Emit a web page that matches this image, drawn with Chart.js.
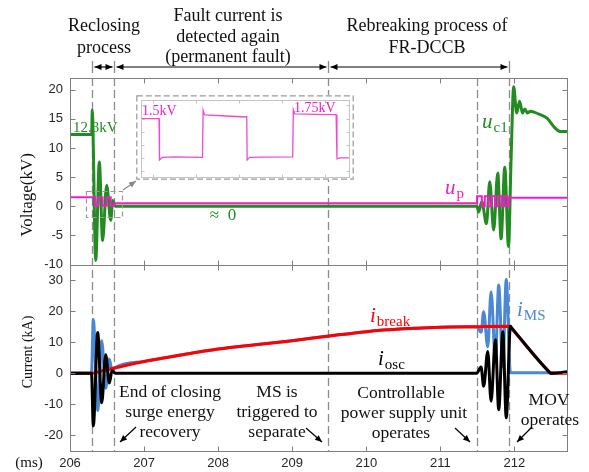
<!DOCTYPE html>
<html>
<head>
<meta charset="utf-8">
<script src="https://cdn.jsdelivr.net/npm/chart.js@4.4.1/dist/chart.umd.min.js"></script>
<style>
  body { margin: 0; background: #fff; }
  #wrap { position: relative; width: 589px; height: 472px; }
  #main { position: absolute; left: 0; top: 0; }
  #inset { position: absolute; left: 136px; top: 95px; }
</style>
</head>
<body>
<div id="wrap">
  <canvas id="main" width="589" height="472" style="width:589px;height:472px"></canvas>
  <canvas id="inset" width="218" height="85" style="width:218px;height:85px"></canvas>
</div>
<script>
// axis ticks
const xTicks = [206, 207, 208, 209, 210, 211, 212];
const voltTicks = [-10, -5, 0, 5, 10, 15, 20];
const currTicks = [-20, -10, 0, 10, 20, 30];
// dashed event lines (ms)
const eventTimes = [206.297, 206.595, 209.49, 211.495, 211.93];

// capacitor voltage u_c1 (kV)
const ucTime = [206, 206.293, 206.300, 206.347, 206.396, 206.440, 206.495, 206.550, 206.577, 206.610,
  211.496, 211.518, 211.560, 211.622, 211.667, 211.720, 211.775, 211.820, 211.870, 211.920, 211.955, 211.990,
  212.030, 212.070, 212.110, 212.140, 212.175, 212.215, 212.330, 212.440, 212.550, 212.620, 212.710];
const ucVal = [12.3, 12.3, 16.5, -9.3, 7.6, -5.9, 3.6, -2.4, 1.0, 0,
  0, -1.0, 0.8, -3.0, 4.2, -4.1, 5.7, -5.6, 6.7, -6.9, 8.0, 20.5,
  16.0, 18.0, 16.0, 16.7, 16.0, 16.3, 15.8, 15.1, 13.4, 12.8, 12.8];

// power supply voltage u_p (kV), step changes
const upTime = [206, 206.338, 206.383, 206.44, 206.495, 206.55, 206.595,
  211.496, 211.56, 211.60, 211.65, 211.69, 211.74, 211.78, 211.83, 211.86, 211.905, 211.925, 212.71];
const upVal = [1.55, 0.1, 1.55, 0.1, 1.55, 0.1, 0.5,
  1.7, 0.0, 1.7, 0.0, 1.7, 0.0, 1.7, 0.0, 1.7, 0.0, 1.45, 1.45];

// currents (kA)
const breakTime = [206, 206.297, 206.45, 206.6, 207, 207.5, 208, 208.5, 209, 209.5, 210, 210.5, 211, 211.5,
  211.935, 211.95, 212.475, 212.49, 212.71];
const breakVal = [0, 0, 0.9, 1.7, 3.8, 5.9, 7.8, 9.2, 10.5, 12.0, 13.4, 14.3, 14.85, 15.0,
  15.1, 14.7, 0.3, 0, 0];

const oscTime = [206, 206.29, 206.315, 206.374, 206.428, 206.482, 206.531, 206.568, 206.61,
  211.49, 211.55, 211.585, 211.64, 211.685, 211.743, 211.788, 211.843, 211.89, 211.946, 211.96, 212.475, 212.49, 212.71];
const oscVal = [0, 0, -16.9, 13.1, -9.5, 6.0, -3.1, 0.9, 0,
  0, 2.0, -4.2, 7.0, -9.0, 10.8, -11.7, 13.4, -14.3, 15.1, 14.7, 0.3, 0, 0.5];

const msTime = [206, 206.29, 206.315, 206.374, 206.428, 206.482, 206.531, 206.568, 206.6, 207, 207.5, 208, 208.5,
  209, 209.5, 210, 210.5, 211, 211.49, 211.55, 211.585, 211.64, 211.685, 211.743, 211.788, 211.843, 211.89, 211.946, 212.71];
const msVal = [0, 0, 17.2, -12.0, 10.5, -4.8, 4.6, 0.6, 1.7, 3.8, 5.9, 7.8, 9.2,
  10.5, 12.0, 13.4, 14.3, 14.85, 15.0, 13.2, 19.8, 8.5, 26.2, 4.5, 28.4, 2.0, 30.2, 0.2, 0.2];

// inset (zoomed u_p)
const insetX = [0.72, 1.14, 1.15, 1.22, 1.5, 2.15, 2.165, 2.2, 2.7, 3.17, 3.18, 3.19, 3.25, 3.6, 4.25, 4.265, 4.3, 4.8, 5.26, 5.28, 5.35, 5.56];
const insetV = [1.5, 1.5, -0.08, 0.02, 0.04, 0.02, 1.82, 1.64, 1.6, 1.56, 1.6, -0.08, 0.02, 0.03, 0.04, 1.84, 1.68, 1.66, 1.65, -0.04, 0.0, 0.0];
const insetXTicks = [1, 2, 3, 4, 5];
const insetYTicks = [-0.5, 0, 0.5, 1, 1.5, 2];

const green = '#228b22', magenta = '#f01ec8', red = '#ff0000', blue = '#4a87d4', black = '#000000';
const serif = '"Liberation Serif", "Times New Roman", serif';
const sans = '"Liberation Sans", Arial, sans-serif';

function pts(t, v) {
  return t.map((x, i) => ({ x: x, y: v[i] }));
}

function txt(ctx, s, x, y, size, color, align, style) {
  ctx.font = (style || '') + ' ' + size + 'px ' + serif;
  ctx.fillStyle = color;
  ctx.textAlign = align || 'center';
  ctx.textBaseline = 'alphabetic';
  ctx.fillText(s, x, y);
}

function subLabel(ctx, main, subs, x, y, color) {
  ctx.font = 'italic 21px ' + serif;
  ctx.fillStyle = color;
  ctx.textAlign = 'left';
  ctx.textBaseline = 'alphabetic';
  ctx.fillText(main, x, y);
  let w = ctx.measureText(main).width;
  ctx.font = '15px ' + serif;
  ctx.fillText(subs, x + w + 1, y + 4);
}

function arrowHead(ctx, x1, y1, x2, y2, len, wid) {
  let ang = Math.atan2(y2 - y1, x2 - x1);
  ctx.beginPath();
  ctx.moveTo(x2, y2);
  ctx.lineTo(x2 - len * Math.cos(ang) + wid * Math.sin(ang), y2 - len * Math.sin(ang) - wid * Math.cos(ang));
  ctx.lineTo(x2 - len * Math.cos(ang) - wid * Math.sin(ang), y2 - len * Math.sin(ang) + wid * Math.cos(ang));
  ctx.closePath();
  ctx.fill();
}

function arrow(ctx, x1, y1, x2, y2, both) {
  ctx.beginPath();
  ctx.moveTo(x1, y1);
  ctx.lineTo(x2, y2);
  ctx.stroke();
  arrowHead(ctx, x1, y1, x2, y2, 7, 3);
  if (both) arrowHead(ctx, x2, y2, x1, y1, 7, 3);
}

const decor = {
  id: 'decor',
  beforeDatasetsDraw(chart) {
    const ctx = chart.ctx, a = chart.chartArea, xs = chart.scales.x;
    ctx.save();
    ctx.strokeStyle = '#8c8c8c';
    ctx.lineWidth = 1.3;
    ctx.setLineDash([8, 4]);
    eventTimes.forEach(t => {
      let px = Math.round(xs.getPixelForValue(t)) + 0.5;
      ctx.beginPath();
      ctx.moveTo(px, a.top);
      ctx.lineTo(px, a.bottom);
      ctx.stroke();
    });
    ctx.restore();
  },
  afterDraw(chart) {
    const ctx = chart.ctx, a = chart.chartArea, xs = chart.scales.x;
    const yV = chart.scales.yV, yI = chart.scales.yI;
    ctx.save();
    // frames and inward ticks
    ctx.strokeStyle = '#7f7f7f';
    ctx.lineWidth = 1;
    [[yV, voltTicks], [yI, currTicks]].forEach(([s, ticks]) => {
      let top = Math.round(s.top) + 0.5, bot = Math.round(s.bottom) + 0.5;
      let l = Math.round(a.left) + 0.5, r = Math.round(a.right) + 0.5;
      ctx.strokeRect(l, top, r - l, bot - top);
      ctx.beginPath();
      ticks.forEach(v => {
        let py = Math.round(s.getPixelForValue(v)) + 0.5;
        ctx.moveTo(l, py); ctx.lineTo(l + 5, py);
        ctx.moveTo(r, py); ctx.lineTo(r - 5, py);
      });
      xTicks.forEach(v => {
        let px = Math.round(xs.getPixelForValue(v)) + 0.5;
        ctx.moveTo(px, top); ctx.lineTo(px, top + 5);
        ctx.moveTo(px, bot); ctx.lineTo(px, bot - 5);
      });
      ctx.stroke();
    });

    // phase arrows on top
    const ay = 67;
    const marks = [eventTimes[0], eventTimes[1], eventTimes[2], eventTimes[4]].map(t => Math.round(xs.getPixelForValue(t)) + 0.5);
    ctx.strokeStyle = '#8c8c8c';
    ctx.lineWidth = 1.3;
    ctx.beginPath();
    marks.forEach(m => { ctx.moveTo(m, ay - 6); ctx.lineTo(m, ay + 6); });
    ctx.stroke();
    ctx.strokeStyle = black;
    ctx.fillStyle = black;
    ctx.lineWidth = 1.2;
    for (let i = 0; i < marks.length - 1; i++) {
      arrow(ctx, marks[i] + 2, ay, marks[i + 1] - 2, ay, true);
    }

    // phase titles
    txt(ctx, 'Reclosing', 104, 31, 18, '#111');
    txt(ctx, 'process', 104, 53, 18, '#111');
    txt(ctx, 'Fault current is', 228, 21, 18, '#111');
    txt(ctx, 'detected again', 228, 42, 18, '#111');
    txt(ctx, '(permanent fault)', 228, 62, 18, '#111');
    txt(ctx, 'Rebreaking process of', 427, 31, 18, '#111');
    txt(ctx, 'FR-DCCB', 427, 53, 18, '#111');

    // axis titles
    ctx.save();
    ctx.translate(32, 195);
    ctx.rotate(-Math.PI / 2);
    txt(ctx, 'Voltage(kV)', 0, 0, 17, '#111');
    ctx.restore();
    ctx.save();
    ctx.translate(32, 352);
    ctx.rotate(-Math.PI / 2);
    txt(ctx, 'Current (kA)', 0, 0, 14, '#111');
    ctx.restore();
    txt(ctx, '(ms)', 29, 467, 15, '#111');

    // zoom box and pointer
    ctx.strokeStyle = '#999';
    ctx.lineWidth = 1.2;
    ctx.setLineDash([5, 3]);
    ctx.strokeRect(86.5, 191.5, 36, 26);
    ctx.setLineDash([]);
    ctx.fillStyle = '#888';
    ctx.strokeStyle = '#888';
    arrow(ctx, 123, 190, 136, 181, false);

    // curve labels
    txt(ctx, '12.3kV', 73, 132, 15, green, 'left');
    txt(ctx, '\u2248  0', 223, 220, 17, green);
    subLabel(ctx, 'u', 'c1', 482, 128, green);
    subLabel(ctx, 'u', 'p', 445, 194, magenta);
    subLabel(ctx, 'i', 'break', 370, 322, red);
    subLabel(ctx, 'i', 'MS', 517, 316, blue);
    subLabel(ctx, 'i', 'osc', 378, 365, black);

    // event notes
    txt(ctx, 'End of closing', 170, 397, 17.5, '#111');
    txt(ctx, 'surge energy', 170, 417, 17.5, '#111');
    txt(ctx, 'recovery', 170, 437, 17.5, '#111');
    txt(ctx, 'MS is', 277, 397, 17.5, '#111');
    txt(ctx, 'triggered to', 277, 417, 17.5, '#111');
    txt(ctx, 'separate', 277, 437, 17.5, '#111');
    txt(ctx, 'Controllable', 401, 398, 17.5, '#111');
    txt(ctx, 'power supply unit', 404, 418, 17.5, '#111');
    txt(ctx, 'operates', 401, 438, 17.5, '#111');
    txt(ctx, 'MOV', 549, 405, 17.5, '#111');
    txt(ctx, 'operates', 550, 425, 17.5, '#111');

    ctx.strokeStyle = black;
    ctx.fillStyle = black;
    ctx.lineWidth = 1.2;
    arrow(ctx, 136, 427, 120, 442, false);
    arrow(ctx, 306, 428, 322, 442, false);
    arrow(ctx, 455, 428, 470, 442, false);
    arrow(ctx, 532, 427, 517, 442, false);
    ctx.restore();
  }
};

const fixY = s => { s.width = 70; };
const line = (data, color, yId, width, extra) => Object.assign({
  data: data, borderColor: color, borderWidth: width, pointRadius: 0, yAxisID: yId,
  cubicInterpolationMode: 'monotone', fill: false
}, extra || {});

new Chart(document.getElementById('main'), {
  type: 'line',
  data: {
    datasets: [
      line(pts(upTime, upVal), magenta, 'yV', 2, { stepped: true }),
      line(pts(ucTime, ucVal), green, 'yV', 3),
      line(pts(oscTime, oscVal), black, 'yI', 3),
      line(pts(breakTime, breakVal), red, 'yI', 3),
      line(pts(msTime, msVal), blue, 'yI', 3)
    ]
  },
  options: {
    responsive: false,
    animation: false,
    layout: { padding: { left: 0, right: 22, top: 78, bottom: 0 } },
    plugins: { legend: { display: false }, tooltip: { enabled: false } },
    scales: {
      x: {
        type: 'linear', min: 206, max: 212.71,
        grid: { display: false, drawTicks: false }, border: { display: false },
        afterBuildTicks: s => { s.ticks = xTicks.map(v => ({ value: v })); },
        afterFit: s => { s.height = 21; },
        ticks: { padding: 5, color: '#262626', font: { family: sans, size: 13 }, maxRotation: 0, autoSkip: false }
      },
      yI: {
        type: 'linear', position: 'left', stack: 'v', stackWeight: 1, min: -25, max: 35,
        grid: { display: false, drawTicks: false }, border: { display: false },
        afterBuildTicks: s => { s.ticks = currTicks.map(v => ({ value: v })); },
        afterFit: fixY,
        ticks: { padding: 7, color: '#262626', font: { family: sans, size: 13 }, autoSkip: false }
      },
      yV: {
        type: 'linear', position: 'left', stack: 'v', stackWeight: 1, min: -10, max: 22,
        grid: { display: false, drawTicks: false }, border: { display: false },
        afterBuildTicks: s => { s.ticks = voltTicks.map(v => ({ value: v })); },
        afterFit: fixY,
        ticks: { padding: 7, color: '#262626', font: { family: sans, size: 13 }, autoSkip: false }
      }
    }
  },
  plugins: [decor]
});

const insetDecor = {
  id: 'insetDecor',
  beforeDraw(chart) {
    const ctx = chart.ctx;
    ctx.save();
    ctx.fillStyle = '#fff';
    ctx.fillRect(0, 0, chart.width, chart.height);
    ctx.restore();
  },
  afterDraw(chart) {
    const ctx = chart.ctx, a = chart.chartArea, xs = chart.scales.x, ys = chart.scales.y;
    ctx.save();
    ctx.strokeStyle = '#c4c4c4';
    ctx.lineWidth = 1;
    let l = Math.round(a.left) + 0.5, r = Math.round(a.right) + 0.5;
    let t = Math.round(a.top) + 0.5, b = Math.round(a.bottom) + 0.5;
    ctx.strokeRect(l, t, r - l, b - t);
    ctx.beginPath();
    insetXTicks.forEach(v => {
      let px = Math.round(xs.getPixelForValue(v)) + 0.5;
      ctx.moveTo(px, t); ctx.lineTo(px, t + 3);
      ctx.moveTo(px, b); ctx.lineTo(px, b - 3);
    });
    insetYTicks.forEach(v => {
      let py = Math.round(ys.getPixelForValue(v)) + 0.5;
      ctx.moveTo(l, py); ctx.lineTo(l + 3, py);
      ctx.moveTo(r, py); ctx.lineTo(r - 3, py);
    });
    ctx.stroke();
    ctx.strokeStyle = '#999';
    ctx.lineWidth = 1.2;
    ctx.setLineDash([6, 3]);
    ctx.strokeRect(0.8, 0.8, chart.width - 1.6, chart.height - 1.6);
    ctx.setLineDash([]);
    txt(ctx, '1.5kV', 6, 20, 14, magenta, 'left');
    txt(ctx, '1.75kV', 158, 16.5, 14, magenta, 'left');
    ctx.restore();
  }
};

new Chart(document.getElementById('inset'), {
  type: 'line',
  data: {
    datasets: [{ data: pts(insetX, insetV), borderColor: '#f04ad2', borderWidth: 1.3, pointRadius: 0, tension: 0, fill: false }]
  },
  options: {
    responsive: false,
    animation: false,
    layout: { padding: { left: 5, right: 5, top: 5, bottom: 3 } },
    plugins: { legend: { display: false }, tooltip: { enabled: false } },
    scales: {
      x: { type: 'linear', min: 0.72, max: 5.56, display: false },
      y: { min: -0.73, max: 2.21, display: false }
    }
  },
  plugins: [insetDecor]
});
</script>
</body>
</html>
